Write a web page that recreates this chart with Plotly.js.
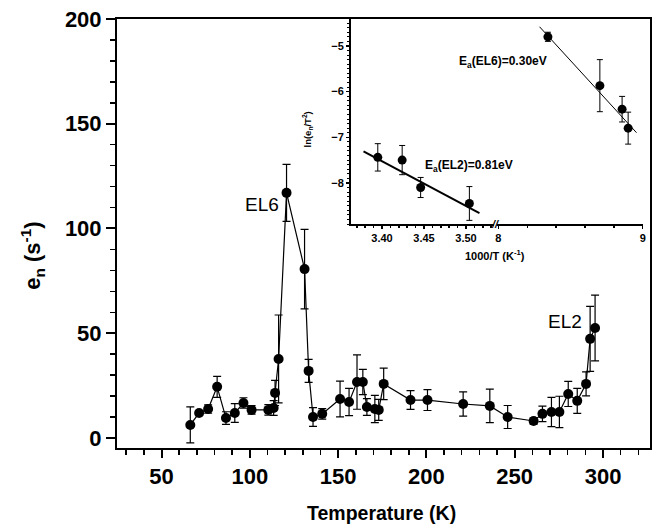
<!DOCTYPE html>
<html>
<head>
<meta charset="utf-8">
<script src="https://cdn.plot.ly/plotly-3.0.1.min.js"></script>
<style>html,body{margin:0;padding:0;background:#fff;}#chart{width:655px;height:529px;}</style>
</head>
<body>
<div id="chart"></div>
<script>
// Main panel: emission rate vs temperature
const temperature = [66.3, 71.3, 76.4, 81.5, 86.5, 91.5, 96.4, 101, 110.5, 113.5, 114.3, 116.3, 120.8, 131, 133.3, 135.8, 141, 151.1, 156.2, 160.7, 164, 166.3, 170.8, 173, 175.8, 191, 200.6, 220.8, 235.9, 246, 260.7, 265.7, 270.8, 275.3, 280.3, 285.4, 290.4, 292.7, 295.5];
const emissionRate = [6.2, 11.9, 13.8, 24.4, 9.5, 11.9, 16.7, 13.4, 13.4, 14.3, 21.5, 37.7, 117, 80.6, 32, 10, 11.5, 18.6, 17.2, 26.7, 26.7, 14.8, 13.8, 13.4, 25.8, 18.1, 18.1, 16.2, 15.3, 10, 8.1, 11.5, 12.4, 12.4, 21, 17.7, 25.8, 47.3, 52.5];
const emissionErr = [8.6, 1, 2, 5, 3, 4.5, 2.5, 2, 2.5, 3.5, 6, 21, 13.6, 19, 5.5, 4.5, 2.5, 8.5, 6.5, 13, 6, 4, 6.5, 5, 7.5, 4.5, 5, 5.8, 8, 5.5, 1.5, 3.7, 7, 7.5, 6, 6, 5.7, 15.5, 15.7];

// Inset: Arrhenius plot
const el2InvT = [3.395, 3.424, 3.446, 3.504];
const el2LnY = [-7.44, -7.50, -8.10, -8.45];
const el2Err = [0.30, 0.32, 0.22, 0.37];
const el2FitX = [3.378, 3.516];
const el2FitY = [-7.31, -8.66];

const el6InvT = [8.343, 8.703, 8.857, 8.899];
const el6LnY = [-4.80, -5.87, -6.385, -6.80];
const el6Err = [0.10, 0.57, 0.28, 0.35];
const el6FitX = [8.285, 8.957];
const el6FitY = [-4.58, -6.90];

const insetLeftTicks = [3.40, 3.45, 3.50];
const insetLeftTickText = ['3.40', '3.45', '3.50'];
const insetRightTicks = [8, 9];
const insetRightTickText = ['8', '9'];

const FONT = 'Liberation Sans, Arial, Helvetica, sans-serif';

const traces = [
  {
    x: temperature, y: emissionRate, type: 'scatter', mode: 'lines+markers',
    xaxis: 'x', yaxis: 'y',
    line: {color: '#000', width: 1.2},
    marker: {color: '#000', size: 10, symbol: 'circle'},
    error_y: {type: 'data', array: emissionErr, visible: true, color: '#000', thickness: 1.2, width: 4}
  },
  {
    x: el2InvT, y: el2LnY, type: 'scatter', mode: 'markers',
    xaxis: 'x2', yaxis: 'y2',
    marker: {color: '#000', size: 9},
    error_y: {type: 'data', array: el2Err, visible: true, color: '#000', thickness: 1, width: 3}
  },
  {
    x: el2FitX, y: el2FitY, type: 'scatter', mode: 'lines',
    xaxis: 'x2', yaxis: 'y2',
    line: {color: '#000', width: 2}
  },
  {
    x: el6InvT, y: el6LnY, type: 'scatter', mode: 'markers',
    xaxis: 'x3', yaxis: 'y2',
    marker: {color: '#000', size: 9},
    error_y: {type: 'data', array: el6Err, visible: true, color: '#000', thickness: 1, width: 3}
  },
  {
    x: el6FitX, y: el6FitY, type: 'scatter', mode: 'lines',
    xaxis: 'x3', yaxis: 'y2',
    line: {color: '#000', width: 1}
  }
];

const insetTickFont = {family: FONT, size: 11, color: '#000', weight: 'bold'};

const layout = {
  width: 655, height: 529,
  margin: {l: 117, r: 5, t: 19, b: 81},
  paper_bgcolor: '#fff', plot_bgcolor: '#fff',
  showlegend: false,
  font: {family: FONT, color: '#000'},
  xaxis: {
    domain: [0, 1], range: [24.8, 326.6], tick0: 0, dtick: 50,
    ticks: 'outside', ticklen: 8, tickwidth: 2, tickcolor: '#000',
    showline: true, linewidth: 2, linecolor: '#000', mirror: true,
    showgrid: false, zeroline: false,
    tickfont: {family: FONT, size: 22, color: '#000', weight: 'bold'},
    minor: {dtick: 10, ticks: 'outside', ticklen: 5, tickwidth: 1.5, tickcolor: '#000', showgrid: false}
  },
  yaxis: {
    domain: [0, 1], range: [-4.8, 200], tick0: 0, dtick: 50,
    ticks: 'outside', ticklen: 9, tickwidth: 2, tickcolor: '#000',
    showline: true, linewidth: 2, linecolor: '#000', mirror: true,
    showgrid: false, zeroline: false,
    tickfont: {family: FONT, size: 22, color: '#000', weight: 'bold'},
    minor: {dtick: 10, ticks: 'outside', ticklen: 5, tickwidth: 1.5, tickcolor: '#000', showgrid: false}
  },
  xaxis2: {
    domain: [0.439, 0.7073], range: [3.3631, 3.5333], anchor: 'y2',
    tickvals: insetLeftTicks, ticktext: insetLeftTickText,
    ticks: 'outside', ticklen: 3, tickwidth: 1.5, tickcolor: '#000',
    showline: true, linewidth: 2, linecolor: '#000',
    showgrid: false, zeroline: false, tickfont: insetTickFont,
    minor: {dtick: 0.01, tick0: 3.3, ticks: 'outside', ticklen: 2, tickwidth: 1.5, tickcolor: '#000', showgrid: false}
  },
  xaxis3: {
    domain: [0.7129, 0.9869], range: [7.99, 9.002], anchor: 'y2',
    tickvals: insetRightTicks, ticktext: insetRightTickText,
    ticks: 'outside', ticklen: 3, tickwidth: 1.5, tickcolor: '#000',
    showline: true, linewidth: 2, linecolor: '#000',
    showgrid: false, zeroline: false, tickfont: insetTickFont,
    minor: {dtick: 0.2, tick0: 8, ticks: 'outside', ticklen: 2, tickwidth: 1.5, tickcolor: '#000', showgrid: false}
  },
  yaxis2: {
    domain: [0.5221, 1], range: [-8.90, -4.41], anchor: 'x2', dtick: 1, tick0: 0,
    ticks: 'outside', ticklen: 3, tickwidth: 1.5, tickcolor: '#000',
    showline: true, linewidth: 2, linecolor: '#000',
    showgrid: false, zeroline: false, tickfont: insetTickFont,
    minor: {dtick: 0.1, ticks: 'outside', ticklen: 2, tickwidth: 1, tickcolor: '#000', showgrid: false}
  },
  annotations: [
    {text: 'EL6', x: 106.7, y: 111.5, xref: 'x', yref: 'y', showarrow: false,
     font: {family: FONT, size: 19, color: '#000'}},
    {text: 'EL2', x: 278.7, y: 55.4, xref: 'x', yref: 'y', showarrow: false,
     font: {family: FONT, size: 19, color: '#000'}},
    {text: 'Temperature (K)', x: 0.497, y: -0.151, xref: 'paper', yref: 'paper', showarrow: false,
     xanchor: 'center', yanchor: 'middle',
     font: {family: FONT, size: 19.5, color: '#000', weight: 'bold'}},
    {text: 'e<sub>n</sub> (s<sup>-1</sup>)', x: -0.158, y: 0.4476, xref: 'paper', yref: 'paper', showarrow: false,
     textangle: -90, xanchor: 'center', yanchor: 'middle',
     font: {family: FONT, size: 22, color: '#000', weight: 'bold'}},
    {text: 'ln(e<sub>n</sub>/T<sup>2</sup>)', x: 0.358, y: 0.742, xref: 'paper', yref: 'paper', showarrow: false,
     textangle: -90, xanchor: 'center', yanchor: 'middle',
     font: {family: FONT, size: 9.5, color: '#000', weight: 'bold'}},
    {text: '1000/T (K<sup>-1</sup>)', x: 0.7092, y: 0.45, xref: 'paper', yref: 'paper', showarrow: false,
     xanchor: 'center', yanchor: 'middle',
     font: {family: FONT, size: 11, color: '#000', weight: 'bold'}},
    {text: 'E<sub>a</sub>(EL6)=0.30eV', x: 0.6379, y: 0.9, xref: 'paper', yref: 'paper', showarrow: false,
     xanchor: 'left', yanchor: 'middle',
     font: {family: FONT, size: 12, color: '#000', weight: 'bold'}},
    {text: 'E<sub>a</sub>(EL2)=0.81eV', x: 0.5741, y: 0.657, xref: 'paper', yref: 'paper', showarrow: false,
     xanchor: 'left', yanchor: 'middle',
     font: {family: FONT, size: 12, color: '#000', weight: 'bold'}},
    {text: '<b><i>//</i></b>', x: 0.7101, y: 0.5221, xref: 'paper', yref: 'paper', showarrow: false,
     xanchor: 'center', yanchor: 'middle',
     font: {family: FONT, size: 11, color: '#000'}}
  ]
};

Plotly.newPlot('chart', traces, layout, {staticPlot: true, displayModeBar: false});
</script>
</body>
</html>
